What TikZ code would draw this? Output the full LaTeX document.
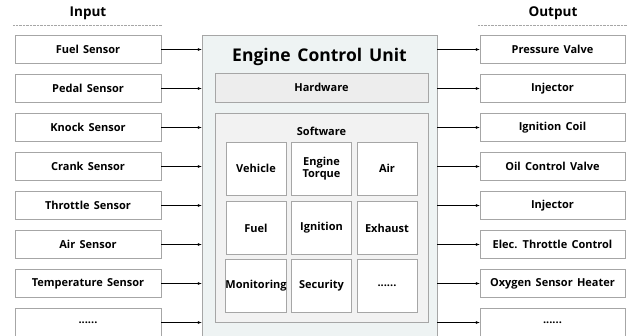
\documentclass[tikz,border=0pt]{standalone}
\usepackage{fontspec}
\setmainfont{Open Sans}[WordSpace=1.5]
\usepackage{tikz}
\usetikzlibrary{shapes,arrows.meta,backgrounds}
\usetikzlibrary{positioning}
\definecolor{boxline}{HTML}{A6A6A6}
\definecolor{ecufill}{HTML}{EEF3F3}
\definecolor{hwfill}{HTML}{EDEDED}
\definecolor{swfill}{HTML}{F2F2F2}
\tikzset{
  sigbox/.style={ draw=boxline, fill=white, minimum width=146pt, minimum height=28pt, inner sep=0pt, font=\bfseries\fontsize{11}{12}\selectfont }
}
\tikzset{
  cellbox/.style={ draw=boxline, fill=white, minimum width=60pt, minimum height=53pt, inner sep=0pt, align=center, font=\bfseries\fontsize{11}{12}\selectfont }
}
\tikzset{
  headline/.style={ font=\bfseries\fontsize{13.5}{15}\selectfont }
}
\tikzset{
  sig/.style={ -{Latex[length=4pt,width=3pt]}, line width=0.6pt }
}

\begin{document}
\begin{tikzpicture}[x=1pt, y=-1pt]
      \clip (0, 0) rectangle (627, 335);
      \fill[white] (0, 0) rectangle (627, 335);
      % titles
      \node[headline] (intitle) at (88, 13) {Input};
      \node[headline] (outtitle) at (553, 13) {Output};
      \draw[boxline, densely dotted] (13, 25) -- (162, 25);
      \draw[boxline, densely dotted] (478, 25) -- (627, 25);
      % engine control unit
      \node[draw=boxline, fill=ecufill, minimum width=235pt, minimum height=310pt] (ecu) at (319.5, 190) {};
      \node[font=\bfseries\fontsize{17.5}{19}\selectfont] (ecutitle) at (319.5, 57) {Engine Control Unit};
      \node[draw=boxline, fill=hwfill, minimum width=213pt, minimum height=29pt, font=\bfseries\fontsize{11}{12}\selectfont] (hw) at (321.5, 87.5) {Hardware};
      \node[draw=boxline, fill=swfill, minimum width=213pt, minimum height=209pt] (sw) at (321.5, 217.5) {};
      \node[font=\bfseries\fontsize{11}{12}\selectfont] (swtitle) at (321.5, 131) {Software};
      \node[cellbox] (vehicle) at (256, 168.5) {Vehicle};
      \node[cellbox] (torque) at (321.5, 168.5) {Engine\\Torque};
      \node[cellbox] (air) at (387, 168.5) {Air};
      \node[cellbox] (fuel) at (256, 228) {Fuel};
      \node[cellbox] (ignition) at (321.5, 228) {Ignition};
      \node[cellbox] (exhaust) at (387, 228) {Exhaust};
      \node[cellbox] (monitor) at (256, 285.5) {Monitoring};
      \node[cellbox] (security) at (321.5, 285.5) {Security};
      \node[cellbox] (swmore) at (387, 285.5) {......};
      % inputs
      \node[sigbox] (in1) at (88, 49.5) {Fuel Sensor};
      \node[sigbox] (in2) at (88, 88.5) {Pedal Sensor};
      \node[sigbox] (in3) at (88, 127.5) {Knock Sensor};
      \node[sigbox] (in4) at (88, 166.5) {Crank Sensor};
      \node[sigbox] (in5) at (88, 205.5) {Throttle Sensor};
      \node[sigbox] (in6) at (88, 244.5) {Air Sensor};
      \node[sigbox] (in7) at (88, 283.5) {Temperature Sensor};
      \node[sigbox] (in8) at (88, 322.5) {......};
      % outputs
      \node[sigbox, minimum width=145pt] (out1) at (552.5, 49.5) {Pressure Valve};
      \node[sigbox, minimum width=145pt] (out2) at (552.5, 88.5) {Injector};
      \node[sigbox, minimum width=145pt] (out3) at (552.5, 127.5) {Ignition Coil};
      \node[sigbox, minimum width=145pt] (out4) at (552.5, 166.5) {Oil Control Valve};
      \node[sigbox, minimum width=145pt] (out5) at (552.5, 205.5) {Injector};
      \node[sigbox, minimum width=145pt] (out6) at (552.5, 244.5) {Elec. Throttle Control};
      \node[sigbox, minimum width=145pt] (out7) at (552.5, 283.5) {Oxygen Sensor Heater};
      \node[sigbox, minimum width=145pt] (out8) at (552.5, 322.5) {......};
      \foreach \i in {1,...,8} {
        \draw[sig] (in\i.east) -- (in\i.east -| ecu.west);
        \draw[sig] (out\i.west -| ecu.east) -- (out\i.west);
      }
    \end{tikzpicture}
\end{document}
